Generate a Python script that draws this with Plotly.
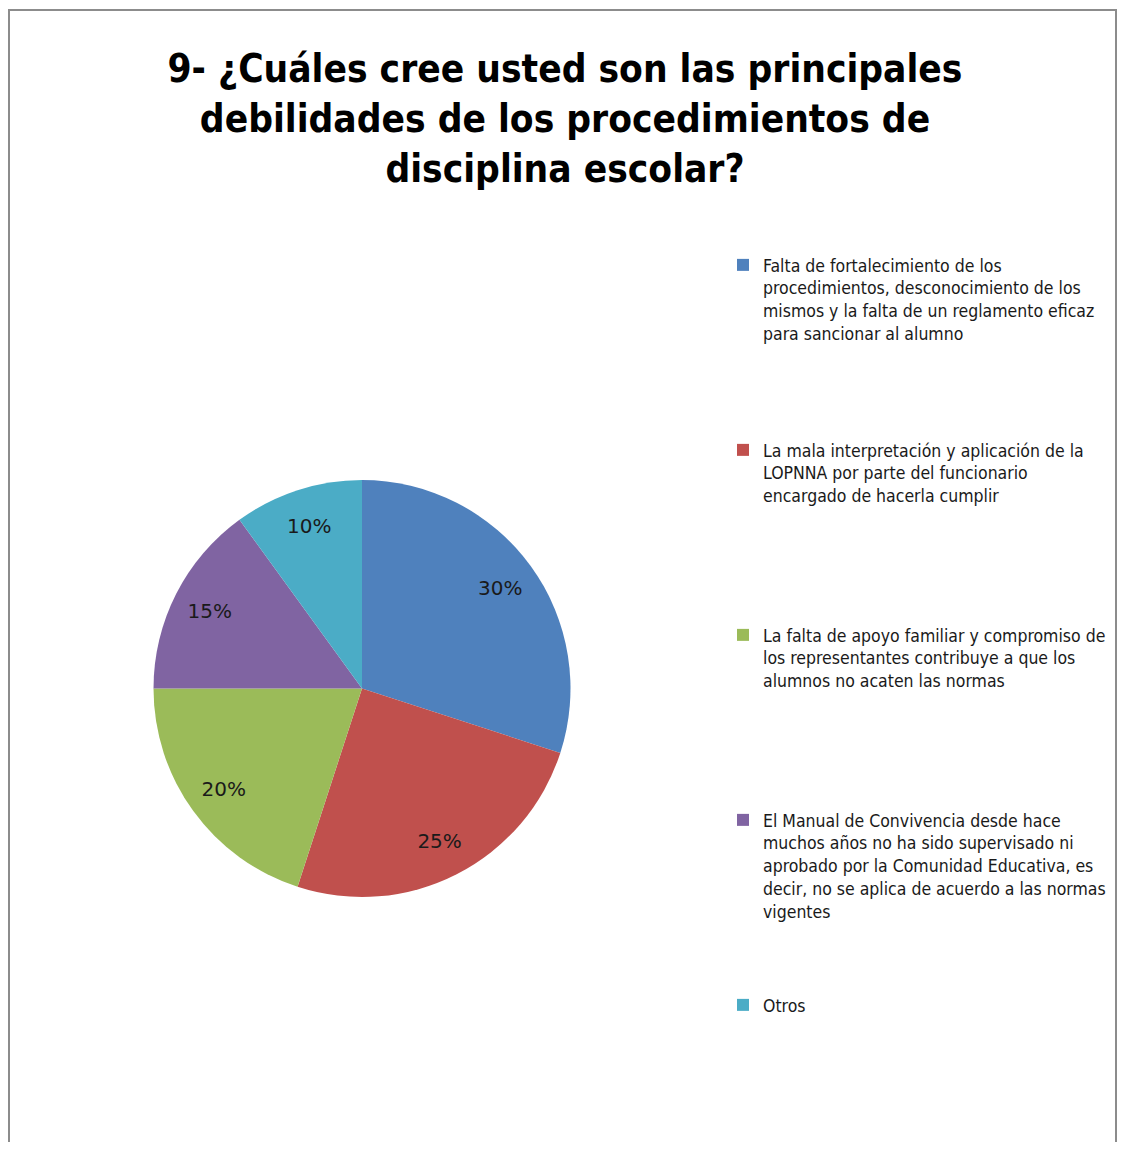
import plotly.graph_objects as go

# respuestas a la pregunta 9 (porcentajes)
labels = [
    "Falta de fortalecimiento de los<br>procedimientos, desconocimiento de los<br>mismos y la falta de un reglamento eficaz<br>para sancionar al alumno",
    "La mala interpretación y aplicación de la<br>LOPNNA por parte del funcionario<br>encargado de hacerla cumplir",
    "La falta de apoyo familiar y compromiso de<br>los representantes contribuye a que los<br>alumnos no acaten las normas",
    "El Manual de Convivencia desde hace<br>muchos años no ha sido supervisado ni<br>aprobado por la Comunidad Educativa, es<br>decir, no se aplica de acuerdo a las normas<br>vigentes",
    "Otros",
]
values = [30, 25, 20, 15, 10]
colors = ["#4F81BD", "#C0504D", "#9BBB59", "#8064A2", "#4BACC6"]

# page body has an 8px margin, so the figure sits 8px in from the window corner;
# keep it small enough that the page never gets scrollbars
W, H = 1109, 1134
OFF = 8
COND = "DejaVu Sans Condensed, Liberation Sans, sans-serif"


def px_x(x):
    return (x - OFF) / W


def px_y(y):
    return 1 - (y - OFF) / H


PIE_DOMAIN = dict(x=[px_x(153), px_x(571)], y=[px_y(897), px_y(480)])


def pad(label, total_lines=8):
    # Excel spaces legend entries evenly; pad each entry with blank lines
    n = label.count("<br>") + 1
    return label + "<br>\u00a0" * max(0, total_lines - n)


legend_labels = [pad(l) for l in labels[:-1]] + [labels[-1]]

fig = go.Figure()

# the pie itself
fig.add_trace(
    go.Pie(
        labels=legend_labels,
        values=values,
        marker=dict(colors=colors, line=dict(width=0)),
        sort=False,
        direction="clockwise",
        rotation=0,
        textinfo="none",
        domain=PIE_DOMAIN,
        hoverinfo="label+percent",
    )
)

# transparent ring on top, only to put the % labels near the rim like Excel does
fig.add_trace(
    go.Pie(
        labels=legend_labels,
        values=values,
        hole=0.64,
        marker=dict(colors=["rgba(0,0,0,0)"] * len(values), line=dict(width=0)),
        sort=False,
        direction="clockwise",
        rotation=0,
        texttemplate="%{percent:.0%}",
        textposition="inside",
        insidetextorientation="horizontal",
        textfont=dict(family="DejaVu Sans", size=20, color="#1a1a1a"),
        domain=PIE_DOMAIN,
        showlegend=False,
        hoverinfo="skip",
    )
)

fig.add_shape(
    type="rect",
    xref="paper",
    yref="paper",
    x0=px_x(9),
    x1=px_x(1116),
    y0=-0.03,
    y1=px_y(10),
    line=dict(color="#8c8c8c", width=2),
    fillcolor="rgba(0,0,0,0)",
)

fig.update_layout(
    width=W,
    height=H,
    autosize=False,
    margin=dict(l=0, r=0, t=0, b=0),
    paper_bgcolor="white",
    plot_bgcolor="white",
    title=dict(
        text="9- ¿Cuáles cree usted son las principales<br>debilidades de los procedimientos de<br>disciplina escolar?",
        x=px_x(565),
        xanchor="center",
        y=px_y(82),
        yanchor="middle",
        font=dict(family=COND, size=38.5, color="black", weight="bold"),
    ),
    showlegend=True,
    legend=dict(
        x=px_x(723),
        xanchor="left",
        y=px_y(247),
        yanchor="top",
        valign="top",
        font=dict(family=COND, size=17.5, color="#1a1a1a"),
        bgcolor="rgba(0,0,0,0)",
        traceorder="normal",
    ),
)

fig.write_html("out.html")
